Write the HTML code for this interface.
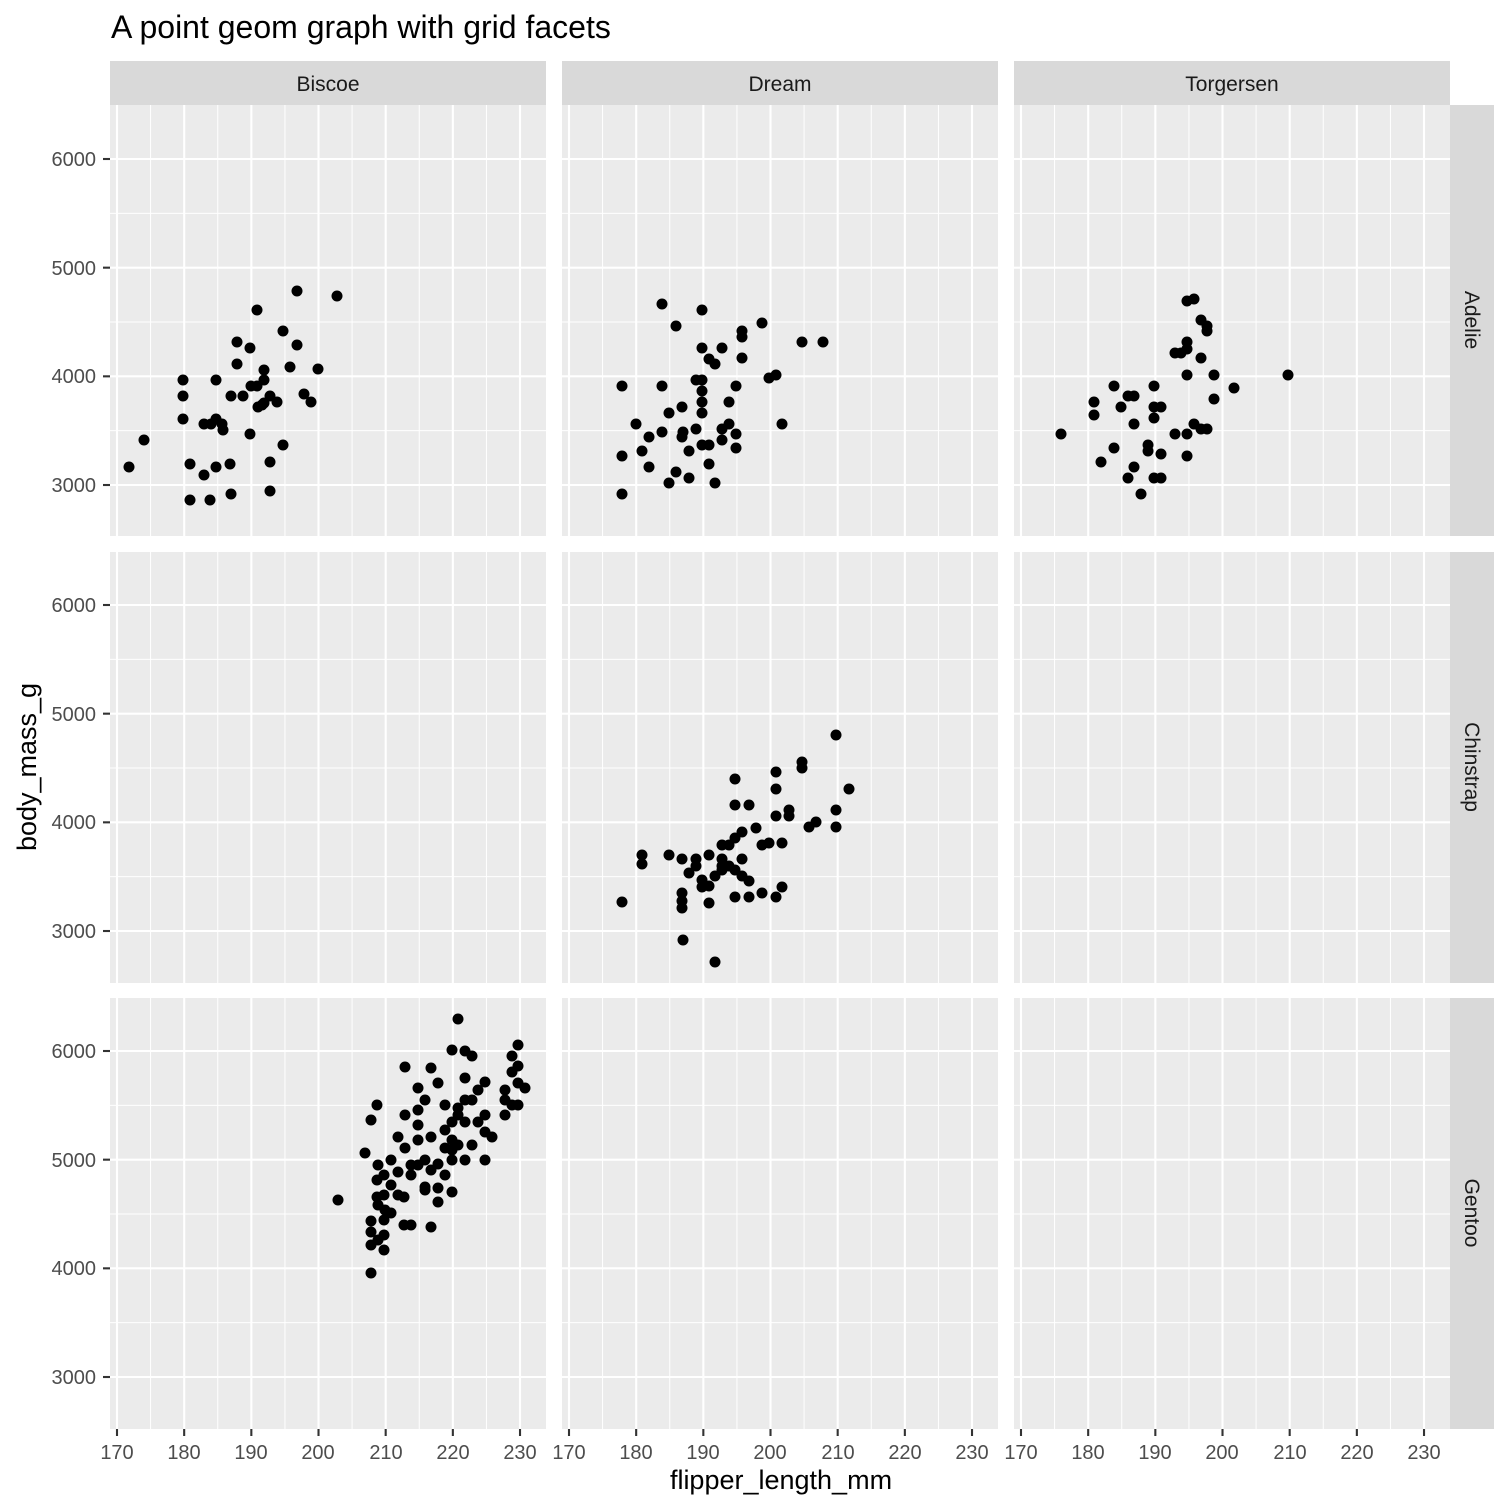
<!DOCTYPE html>
<html><head><meta charset="utf-8"><style>
html,body{margin:0;padding:0;background:#fff;}
svg{display:block;font-family:"Liberation Sans",sans-serif;}
</style></head><body>
<svg id="s" width="1512" height="1512" viewBox="0 0 1512 1512" xmlns="http://www.w3.org/2000/svg">
<rect width="1512" height="1512" fill="#fff"/>
<g id="panels"></g>
<text x="111" y="38" font-size="32" fill="#000">A point geom graph with grid facets</text>
<rect x="110" y="61" width="436" height="44" fill="#d9d9d9"/>
<rect x="562" y="61" width="436" height="44" fill="#d9d9d9"/>
<rect x="1014" y="61" width="436" height="44" fill="#d9d9d9"/>
<text x="328" y="91" font-size="21" fill="#1a1a1a" text-anchor="middle">Biscoe</text>
<text x="780" y="91" font-size="21" fill="#1a1a1a" text-anchor="middle">Dream</text>
<text x="1232" y="91" font-size="21" fill="#1a1a1a" text-anchor="middle">Torgersen</text>
<rect x="1450" y="105" width="44" height="431" fill="#d9d9d9"/>
<rect x="1450" y="552" width="44" height="431" fill="#d9d9d9"/>
<rect x="1450" y="998" width="44" height="431" fill="#d9d9d9"/>
<text transform="translate(1465,320) rotate(90)" font-size="21" fill="#1a1a1a" text-anchor="middle">Adelie</text>
<text transform="translate(1465,767) rotate(90)" font-size="21" fill="#1a1a1a" text-anchor="middle">Chinstrap</text>
<text transform="translate(1465,1213) rotate(90)" font-size="21" fill="#1a1a1a" text-anchor="middle">Gentoo</text>
<g font-size="20" fill="#4d4d4d" text-anchor="end">
<text x="96" y="166">6000</text><text x="96" y="275">5000</text><text x="96" y="383">4000</text><text x="96" y="492">3000</text>
<text x="96" y="612">6000</text><text x="96" y="721">5000</text><text x="96" y="829">4000</text><text x="96" y="938">3000</text>
<text x="96" y="1058">6000</text><text x="96" y="1167">5000</text><text x="96" y="1275">4000</text><text x="96" y="1384">3000</text>
</g>
<g font-size="20" fill="#4d4d4d" text-anchor="middle">
<text x="117" y="1459">170</text><text x="184" y="1459">180</text><text x="251" y="1459">190</text><text x="318" y="1459">200</text><text x="386" y="1459">210</text><text x="453" y="1459">220</text><text x="520" y="1459">230</text>
<text x="569" y="1459">170</text><text x="636" y="1459">180</text><text x="703" y="1459">190</text><text x="770" y="1459">200</text><text x="838" y="1459">210</text><text x="905" y="1459">220</text><text x="972" y="1459">230</text>
<text x="1021" y="1459">170</text><text x="1088" y="1459">180</text><text x="1155" y="1459">190</text><text x="1222" y="1459">200</text><text x="1290" y="1459">210</text><text x="1357" y="1459">220</text><text x="1424" y="1459">230</text>
</g>
<text x="781" y="1489" font-size="27" fill="#000" text-anchor="middle">flipper_length_mm</text>
<text transform="translate(36,767) rotate(-90)" font-size="27" fill="#000" text-anchor="middle">body_mass_g</text>
<g id="pts" fill="#000"></g>
</svg>
<script>
var NS="http://www.w3.org/2000/svg";
function el(p,t,a){var e=document.createElementNS(NS,t);for(var k in a)e.setAttribute(k,a[k]);p.appendChild(e);return e;}
var P=document.getElementById("panels");
var cols=[110,562,1014],rows=[105,552,998];
var ppx=6.717,ppy=0.10867;
rows.forEach(function(r,ri){
 var y6=159+ri*446;
 cols.forEach(function(c,ci){
  el(P,"rect",{x:c,y:r,width:436,height:431,fill:"#ebebeb"});
  var x170=117+ci*452;
  for(var v=165;v<=235;v+=10){var x=x170+(v-170)*ppx;if(x>c&&x<c+436)el(P,"line",{x1:x,x2:x,y1:r,y2:r+431,stroke:"#fff","stroke-width":1});}
  for(var v=2500;v<=6500;v+=1000){var y=y6+(6000-v)*ppy;if(y>r&&y<r+431)el(P,"line",{x1:c,x2:c+436,y1:y,y2:y,stroke:"#fff","stroke-width":1});}
  for(var v=170;v<=230;v+=10){var x=x170+(v-170)*ppx;el(P,"line",{x1:x,x2:x,y1:r,y2:r+431,stroke:"#fff","stroke-width":2.1});}
  for(var v=3000;v<=6000;v+=1000){var y=y6+(6000-v)*ppy;el(P,"line",{x1:c,x2:c+436,y1:y,y2:y,stroke:"#fff","stroke-width":2.1});}
  if(ri==2){for(var v=170;v<=230;v+=10){var x=x170+(v-170)*ppx;el(P,"line",{x1:x,x2:x,y1:1429,y2:1436,stroke:"#333","stroke-width":2.1});}}
 });
 for(var v=3000;v<=6000;v+=1000){var y=y6+(6000-v)*ppy;el(P,"line",{x1:103,x2:110,y1:y,y2:y,stroke:"#333","stroke-width":2.1});}
});
var pts=[[129,467],[144,440],[183,380],[183,396],[183,419],[190,464],[190,500],[204,475],[204,424],[210,500],[211,424],[216,380],[216,419],[216,467],[222,424],[223,430],[230,464],[231,494],[231,396],[237,342],[237,364],[243,396],[250,348],[250,434],[251,386],[257,310],[257,386],[258,407],[262,405],[264,380],[264,370],[264,403],[270,396],[270,462],[270,491],[277,402],[283,331],[283,445],[290,367],[297,291],[297,345],[304,394],[311,402],[318,369],[337,296],
[622,386],[622,456],[622,494],[636,424],[642,451],[649,467],[649,437],[662,304],[662,386],[662,432],[669,413],[669,483],[676,326],[676,472],[682,437],[682,407],[683,432],[689,451],[689,478],[696,380],[696,429],[702,310],[702,348],[702,380],[702,391],[702,402],[702,413],[702,445],[709,359],[709,464],[709,445],[715,364],[715,483],[722,348],[722,440],[722,429],[729,424],[729,402],[736,386],[736,434],[736,448],[742,331],[742,337],[742,358],[762,323],[769,378],[776,375],[782,424],[802,342],[823,342],
[1061,434],[1094,402],[1094,415],[1101,462],[1114,386],[1114,448],[1121,407],[1128,478],[1128,396],[1134,396],[1134,467],[1134,424],[1141,494],[1148,445],[1148,451],[1154,386],[1154,407],[1154,418],[1154,478],[1161,478],[1161,454],[1161,407],[1175,353],[1175,434],[1181,353],[1187,342],[1187,375],[1187,434],[1187,456],[1187,301],[1187,349],[1194,299],[1194,424],[1201,320],[1201,358],[1201,429],[1207,326],[1207,331],[1207,429],[1214,375],[1214,399],[1234,388],[1288,375],
[622,902],[642,855],[642,864],[669,855],[682,859],[682,893],[682,901],[682,908],[683,940],[689,873],[696,859],[696,866],[702,880],[702,887],[709,855],[709,886],[709,903],[715,962],[715,876],[722,845],[722,859],[722,866],[722,870],[729,845],[729,866],[735,779],[735,805],[735,838],[735,870],[735,897],[742,832],[742,859],[742,876],[749,805],[749,881],[749,897],[756,828],[762,845],[762,893],[769,843],[776,772],[776,789],[776,816],[776,897],[782,843],[782,887],[789,810],[789,816],[802,762],[802,768],[809,827],[816,822],[836,735],[836,810],[836,827],[849,789],
[338,1200],[365,1153],[371,1273],[371,1245],[371,1232],[371,1221],[371,1120],[377,1105],[377,1180],[377,1197],[378,1240],[378,1205],[378,1165],[384,1250],[384,1235],[384,1220],[384,1195],[384,1175],[385,1210],[391,1213],[391,1185],[391,1160],[398,1172],[398,1195],[398,1137],[404,1225],[404,1197],[405,1148],[405,1067],[405,1115],[411,1225],[411,1175],[411,1165],[418,1088],[418,1125],[418,1165],[418,1140],[418,1110],[425,1100],[425,1187],[425,1160],[425,1190],[431,1227],[431,1137],[431,1068],[431,1170],[438,1083],[438,1202],[438,1188],[438,1164],[445,1105],[445,1175],[445,1130],[445,1148],[452,1050],[452,1160],[452,1192],[452,1140],[452,1122],[452,1150],[458,1115],[458,1019],[458,1108],[458,1145],[465,1051],[465,1078],[465,1100],[465,1122],[465,1160],[472,1056],[472,1100],[472,1145],[478,1090],[478,1122],[485,1082],[485,1160],[485,1115],[485,1132],[492,1137],[505,1100],[505,1115],[505,1090],[512,1056],[512,1072],[512,1105],[518,1045],[518,1066],[518,1083],[518,1105],[525,1088]];
var G=document.getElementById("pts");
pts.forEach(function(p){el(G,"circle",{cx:p[0],cy:p[1],r:5.5});});
</script>
</body></html>
